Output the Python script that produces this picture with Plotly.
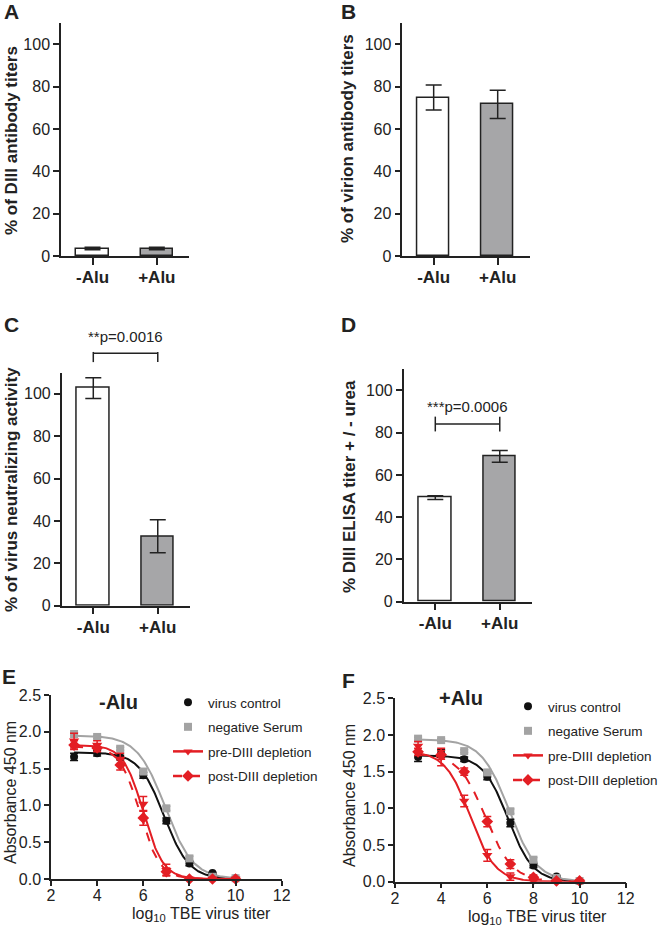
import numpy as np
import plotly.graph_objects as go

W, H = 666, 931

# ---------------- data ----------------
categories = ["-Alu", "+Alu"]
A_values = [3.5, 3.5]
A_errors = [0.6, 0.6]
B_values = [74.8, 71.6]
B_errors = [5.9, 6.7]
C_values = [102.7, 32.8]
C_errors = [4.9, 7.8]
D_values = [49.3, 68.8]
D_errors = [0.9, 2.8]
C_pvalue = "**p=0.0016"
D_pvalue = "***p=0.0006"

log_titer = [3, 4, 5, 6, 7, 8, 9, 10]

E_virus = [1.66, 1.71, 1.65, 1.41, 0.79, 0.21, 0.08, 0.01]
E_virus_err = [0.05, 0.04, 0.03, 0.04, 0.04, 0.03, 0.01, 0.01]
E_neg = [1.97, 1.93, 1.77, 1.46, 0.96, 0.28, 0.03, 0.01]
E_neg_err = [0.02, 0.02, 0.02, 0.02, 0.03, 0.03, 0.01, 0.01]
E_pre = [1.88, 1.82, 1.63, 1.02, 0.12, 0.0, 0.0, 0.0]
E_pre_err = [0.10, 0.06, 0.08, 0.10, 0.08, 0.02, 0.01, 0.01]
E_post = [1.82, 1.78, 1.55, 0.83, 0.10, 0.0, 0.0, 0.0]
E_post_err = [0.06, 0.05, 0.07, 0.10, 0.05, 0.02, 0.01, 0.01]

F_virus = [1.70, 1.75, 1.67, 1.43, 0.80, 0.22, 0.07, 0.01]
F_virus_err = [0.06, 0.05, 0.03, 0.04, 0.05, 0.03, 0.01, 0.01]
F_neg = [1.95, 1.93, 1.78, 1.49, 0.96, 0.30, 0.05, 0.01]
F_neg_err = [0.02, 0.02, 0.02, 0.02, 0.03, 0.03, 0.01, 0.01]
F_pre = [1.85, 1.70, 1.10, 0.36, 0.07, 0.01, 0.0, 0.0]
F_pre_err = [0.06, 0.12, 0.08, 0.08, 0.05, 0.02, 0.01, 0.01]
F_post = [1.77, 1.73, 1.50, 0.82, 0.24, 0.06, 0.01, 0.01]
F_post_err = [0.05, 0.06, 0.05, 0.07, 0.06, 0.03, 0.01, 0.01]

# sigmoidal fit parameters (top, bottom, logEC50, hill)
E_fits = {"virus": (1.72, 0.0, 6.9, 0.8), "neg": (1.95, 0.0, 6.95, 0.72),
          "pre": (1.82, 0.0, 6.0, 1.0), "post": (1.80, 0.0, 5.85, 1.0)}
F_fits = {"virus": (1.72, 0.0, 6.9, 0.8), "neg": (1.94, 0.0, 6.95, 0.72),
          "pre": (1.78, 0.0, 5.26, 0.80), "post": (1.75, 0.0, 5.93, 0.74)}

legend_names = ["virus control", "negative Serum", "pre-DIII depletion", "post-DIII depletion"]

# ---------------- style ----------------
FONT = "Liberation Sans, Arial, sans-serif"
INK = "#222222"
RED = "#e31e24"
GREY_BAR = "#a6a6a8"
GREY_PT = "#a3a3a3"
BLACK = "#111111"


def px(x):
    return x / W


def py(y):
    return 1 - y / H


fig = go.Figure()

bar_panels = [
    # (values, errors, xdomain px, ydomain px (bottom, top))
    (A_values, A_errors, (61, 189), (256, 23)),
    (B_values, B_errors, (402.3, 529.7), (256, 23)),
    (C_values, C_errors, (61.7, 190), (605.7, 372.7)),
    (D_values, D_errors, (403.7, 532), (601.7, 369.3)),
]
XR = [-0.49, 1.5]
YR = [0, 110]

for i, (vals, errs, xd, yd) in enumerate(bar_panels):
    n = i + 1
    xa = "x" if n == 1 else f"x{n}"
    ya = "y" if n == 1 else f"y{n}"
    fig.add_trace(go.Bar(
        x=[0, 1], y=vals, width=0.5,
        marker=dict(color=["white", GREY_BAR], line=dict(color=INK, width=1.5)),
        error_y=dict(type="data", array=errs, color=INK, thickness=1.5, width=8),
        xaxis=xa, yaxis=ya, showlegend=False, hoverinfo="skip"))
    fig.layout[f"xaxis{'' if n == 1 else n}"] = dict(
        domain=[px(xd[0]), px(xd[1])], anchor=ya, range=XR, automargin=False,
        tickmode="array", tickvals=[0, 1], ticktext=categories,
        showline=True, linecolor=INK, linewidth=1.5, ticks="outside", ticklen=7,
        tickwidth=1.5, tickcolor=INK, showgrid=False, zeroline=False, ticklabelstandoff=-2,
        tickfont=dict(family=FONT, size=17, color=INK, weight="bold"), fixedrange=True)
    fig.layout[f"yaxis{'' if n == 1 else n}"] = dict(
        domain=[py(yd[0]), py(yd[1])], anchor=xa, range=YR, automargin=False,
        tickmode="array", tickvals=[0, 20, 40, 60, 80, 100],
        showline=True, linecolor=INK, linewidth=1.5, ticks="outside", ticklen=6,
        tickwidth=1.5, tickcolor=INK, showgrid=False, zeroline=False,
        tickfont=dict(family=FONT, size=16, color=INK), fixedrange=True)


def frac(v, r):
    return (v - r[0]) / (r[1] - r[0])


# significance brackets (in axis-domain units derived from the axis ranges)
def bracket(n, ybar, ylo, yhi, text, ytext):
    xr = f"x{n} domain"
    yr = f"y{n} domain"
    x0, x1 = frac(0, XR), frac(1, XR)
    yb = frac(ybar, YR)
    fig.add_shape(type="line", xref=xr, yref=yr, x0=x0, x1=x1, y0=yb, y1=yb,
                  line=dict(color=INK, width=1.5))
    for xx in (x0, x1):
        fig.add_shape(type="line", xref=xr, yref=yr, x0=xx, x1=xx,
                      y0=frac(ylo, YR), y1=frac(yhi, YR), line=dict(color=INK, width=1.5))
    fig.add_annotation(xref=xr, yref=yr, x=(x0 + x1) / 2, y=frac(ytext, YR), text=text,
                       showarrow=False, yanchor="bottom",
                       font=dict(family=FONT, size=15, color=INK))


bracket(3, 119.2, 115.0, 119.8, C_pvalue, 122.0)
bracket(4, 84.1, 80.6, 87.6, D_pvalue, 87.5)


def logistic(x, p):
    top, bottom, x0, h = p
    return bottom + (top - bottom) / (1 + 10 ** ((x - x0) * h))


curve_panels = [
    (5, (51, 281.7), (879, 695),
     [(E_virus, E_virus_err), (E_neg, E_neg_err), (E_pre, E_pre_err), (E_post, E_post_err)], E_fits),
    (6, (395, 625.7), (881.7, 698.3),
     [(F_virus, F_virus_err), (F_neg, F_neg_err), (F_pre, F_pre_err), (F_post, F_post_err)], F_fits),
]
series_style = [
    ("virus", BLACK, "circle", "solid", 8),
    ("neg", GREY_PT, "square", "solid", 8),
    ("pre", RED, "triangle-down", "solid", 9),
    ("post", RED, "diamond", "dash", 9),
]

xs = np.linspace(log_titer[0], log_titer[-1], 200)
for n, xd, yd, series, fits in curve_panels:
    xa, ya = f"x{n}", f"y{n}"
    for (vals, errs), (key, col, sym, dash, ms) in zip(series, series_style):
        fig.add_trace(go.Scatter(
            x=xs, y=logistic(xs, fits[key]), mode="lines",
            line=dict(color=col, width=2, dash=dash), xaxis=xa, yaxis=ya,
            showlegend=False, hoverinfo="skip"))
    for (vals, errs), (key, col, sym, dash, ms) in zip(series, series_style):
        fig.add_trace(go.Scatter(
            x=log_titer, y=vals, mode="markers",
            marker=dict(color=col, symbol=sym, size=ms, line=dict(width=0)),
            error_y=dict(type="data", array=errs, color=col, thickness=1.5, width=4),
            xaxis=xa, yaxis=ya, showlegend=False, cliponaxis=False))
    # legend entries
    lg = "legend" if n == 5 else "legend2"
    for name, (key, col, sym, dash, ms) in zip(legend_names, series_style):
        mode = "markers" if key in ("virus", "neg") else "lines+markers"
        fig.add_trace(go.Scatter(
            x=[None], y=[None], mode=mode, name=name, legend=lg, legendgroup=f"{lg}{key}",
            marker=dict(color=col, symbol=sym, size=ms if key != "pre" else 8),
            line=dict(color=col, width=2.5, dash=dash if key == "post" else "solid"),
            xaxis=xa, yaxis=ya))
    fig.layout[f"xaxis{n}"] = dict(
        domain=[px(xd[0]), px(xd[1])], anchor=ya, range=[2, 12], automargin=False,
        tickvals=[2, 4, 6, 8, 10, 12], showline=True, linecolor=INK, linewidth=1.5,
        ticks="outside", ticklen=5, tickwidth=1.5, tickcolor=INK, showgrid=False,
        ticklabelstandoff=-4,
        zeroline=False, tickfont=dict(family=FONT, size=16, color=INK), fixedrange=True)
    fig.layout[f"yaxis{n}"] = dict(
        domain=[py(yd[0]), py(yd[1])], anchor=xa, range=[0, 2.5], automargin=False,
        tickvals=[0, 0.5, 1.0, 1.5, 2.0, 2.5], tickformat=".1f",
        showline=True, linecolor=INK, linewidth=1.5,
        ticks="outside", ticklen=5, tickwidth=1.5, tickcolor=INK, showgrid=False,
        zeroline=False, tickfont=dict(family=FONT, size=16, color=INK), fixedrange=True)

legend_common = dict(font=dict(family=FONT, size=13.5, color=INK), bgcolor="rgba(0,0,0,0)",
                     traceorder="grouped", tracegroupgap=4, itemclick=False,
                     itemdoubleclick=False, xanchor="left", yanchor="top")
fig.update_layout(
    legend=dict(x=px(168), y=py(687), **legend_common),
    legend2=dict(x=px(508), y=py(691), **legend_common),
)

# ---------------- text ----------------
def ann(x, y, text, size, bold=False, angle=0, xanchor="center"):
    fig.add_annotation(xref="paper", yref="paper", x=px(x), y=py(y), text=text,
                       showarrow=False, textangle=angle, xanchor=xanchor, yanchor="middle",
                       font=dict(family=FONT, size=size, color=INK,
                                 weight="bold" if bold else "normal"))


for lab, x, y in [("A", 2, 12), ("B", 339, 12), ("C", 2, 324), ("D", 339, 324),
                  ("E", 0, 676), ("F", 340, 680)]:
    ann(x, y, lab, 21, bold=True, xanchor="left")

ann(11, 141, "% of DIII antibody titers", 17, bold=True, angle=-90)
ann(347, 139, "% of virion antibody titers", 17, bold=True, angle=-90)
ann(11, 490, "% of virus neutralizing activity", 17, bold=True, angle=-90)
ann(349, 487, "% DIII ELISA titer + / - urea", 17, bold=True, angle=-90)
ann(10, 793, "Absorbance 450 nm", 16, angle=-90)
ann(349, 796, "Absorbance 450 nm", 16, angle=-90)
ann(201, 914, "log<sub>10</sub> TBE virus titer", 16)
ann(537, 917, "log<sub>10</sub> TBE virus titer", 16)
ann(118, 702, "-Alu", 20, bold=True)
ann(461, 698, "+Alu", 20, bold=True)

fig.update_layout(
    width=W, height=H, margin=dict(l=0, r=0, t=0, b=0, pad=0, autoexpand=False),
    paper_bgcolor="white", plot_bgcolor="white",
    font=dict(family=FONT, color=INK), bargap=0, hovermode=False,
)

fig.write_html("out.html", config={"displayModeBar": False},
               post_script="document.body.style.margin='0';document.body.style.padding='0';")
